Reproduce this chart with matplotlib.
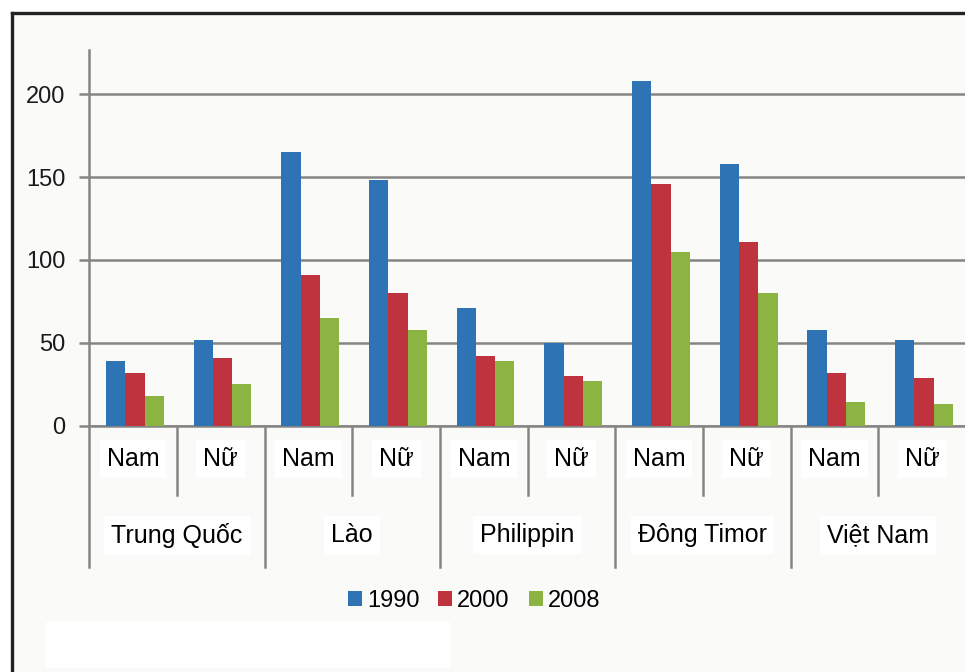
import matplotlib
matplotlib.use('Agg')
import matplotlib.pyplot as plt
from matplotlib import font_manager
from matplotlib.lines import Line2D
from matplotlib.patches import Rectangle
from matplotlib.transforms import blended_transform_factory
import numpy as np

# data
countries = ['Trung Quốc', 'Lào', 'Philippin', 'Đông Timor', 'Việt Nam']
sexes = ['Nam', 'Nữ']
years = ['1990', '2000', '2008']
v1990 = [39, 52, 165, 148, 71, 50, 208, 158, 58, 52]
v2000 = [32, 41, 91, 80, 42, 30, 146, 111, 32, 29]
v2008 = [18, 25, 65, 58, 39, 27, 105, 80, 14, 13]
colors = ['#2e74b5', '#be333d', '#8cb443']

# condensed font for the category labels if there is one
names = set(f.name for f in font_manager.fontManager.ttflist)
if 'Liberation Sans Narrow' in names:
    cat_font = ['Liberation Sans Narrow', 'DejaVu Sans']
    cat_size = 21
else:
    cat_font = ['Liberation Sans', 'DejaVu Sans']
    cat_size = 18
plt.rcParams['font.family'] = ['Liberation Sans', 'DejaVu Sans']

W, H = 965, 672
fig = plt.figure(figsize=(W / 100, H / 100), dpi=100, facecolor='white')

# off-white panel and black frame
fig.patches.append(Rectangle((12 / W, 0), 1, 1 - 13 / H, transform=fig.transFigure,
                             facecolor='#fafaf9', edgecolor='none', zorder=-2))
fig.patches.append(Rectangle((46 / W, 1 - 668 / H), 404 / W, 46 / H, transform=fig.transFigure,
                             facecolor='white', edgecolor='none', zorder=-1))
fig.lines.append(Line2D([12 / W, 12 / W], [0, 1 - 13 / H], transform=fig.transFigure,
                        color='#222222', lw=2.4))
fig.lines.append(Line2D([12 / W, 1], [1 - 13 / H, 1 - 13 / H], transform=fig.transFigure,
                        color='#222222', lw=2.4))

ax_left, ax_right, ax_top, ax_bot = 89.3, 966, 50, 425.7
ax = fig.add_axes([ax_left / W, 1 - ax_bot / H, (ax_right - ax_left) / W, (ax_bot - ax_top) / H])
ax.set_facecolor('none')

n = len(v1990)
x = np.arange(n) + 0.52
bw = 0.22
for i, (vals, c, lab) in enumerate(zip([v1990, v2000, v2008], colors, years)):
    ax.bar(x + (i - 1) * bw, vals, bw, color=c, label=lab, zorder=3)

ax.set_xlim(0, n)
ax.set_ylim(0, 226.7)
ax.set_yticks([0, 50, 100, 150, 200])
ax.yaxis.grid(True, color='#858585', lw=1.8, zorder=1)
ax.set_axisbelow(True)
ax.tick_params(axis='y', length=7, width=1.8, color='#858585', pad=10,
               labelsize=17, labelcolor='#1a1a1a')
ax.set_xticks([])
for s in ['top', 'right']:
    ax.spines[s].set_visible(False)
ax.spines['left'].set_color('#858585')
ax.spines['left'].set_linewidth(1.8)
ax.spines['bottom'].set_color('#858585')
ax.spines['bottom'].set_linewidth(1.8)

# two-level category axis
trans = blended_transform_factory(ax.transData, ax.transAxes)
ah = ax_bot - ax_top
inner_y = -(495 - ax_bot) / ah
outer_y = -(567 - ax_bot) / ah
for k in range(n + 1):
    low = outer_y if k % 2 == 0 else inner_y
    ax.plot([k, k], [0, low], transform=trans, color='#858585', lw=1.8, clip_on=False)

sub_y = -(459 - ax_bot) / ah
grp_y = -(535 - ax_bot) / ah
box = dict(facecolor='white', edgecolor='none', pad=5)
for k in range(n):
    ax.text(k + 0.5, sub_y, sexes[k % 2], transform=trans, ha='center', va='center',
            fontsize=cat_size, family=cat_font, color='black', bbox=box)
for g, name in enumerate(countries):
    ax.text(2 * g + 1, grp_y, name, transform=trans, ha='center', va='center',
            fontsize=cat_size, family=cat_font, color='black', bbox=box)

fig.legend(loc='center', bbox_to_anchor=(474 / W, 1 - 601 / H), ncol=3, frameon=False,
           fontsize=17, handlelength=0.6, handleheight=0.6, handletextpad=0.2,
           columnspacing=0.8, borderpad=0)

fig.savefig('out.png', dpi=100, facecolor='white')
